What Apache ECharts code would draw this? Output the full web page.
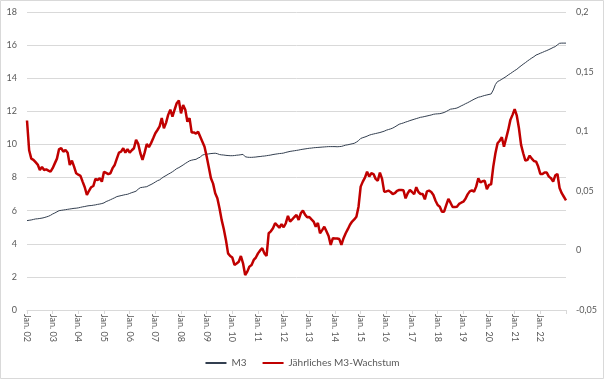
<!DOCTYPE html>
<html><head><meta charset="utf-8">
<script src="https://cdn.jsdelivr.net/npm/echarts@6/dist/echarts.min.js"></script>
<style>html,body{margin:0;padding:0;background:#fff}#c{width:604px;height:379px}</style>
</head><body><div id="c"></div>
<script>
// Month names and year suffixes used to build the category (month) axis: Jan. 02 ... Jan. 23
const monthNames = ["Jan.","Feb.","Mär.","Apr.","Mai","Jun.","Jul.","Aug.","Sep.","Okt.","Nov.","Dez."];
const years = ["02","03","04","05","06","07","08","09","10","11","12","13","14","15","16","17","18","19","20","21","22","23"];
const seriesNames = ["M3","Jährliches M3-Wachstum"];

// M3 (left axis), monthly Jan 2002 .. Jan 2023
const m3 = [
5.40,5.42,5.44,5.47,5.50,5.51,5.53,5.55,5.58,5.62,5.66,5.72,
5.80,5.86,5.93,6.00,6.02,6.04,6.06,6.08,6.10,6.12,6.14,6.15,
6.17,6.20,6.23,6.25,6.28,6.30,6.31,6.33,6.35,6.38,6.40,6.43,
6.47,6.55,6.60,6.66,6.72,6.78,6.85,6.88,6.91,6.94,6.97,6.99,
7.04,7.09,7.13,7.18,7.30,7.39,7.41,7.43,7.45,7.52,7.58,7.65,
7.73,7.81,7.86,7.96,8.05,8.12,8.20,8.27,8.35,8.44,8.54,8.60,
8.68,8.76,8.85,8.93,9.01,9.05,9.08,9.10,9.18,9.23,9.36,9.39,
9.41,9.43,9.45,9.46,9.47,9.44,9.39,9.37,9.36,9.34,9.33,9.32,
9.32,9.33,9.35,9.36,9.38,9.40,9.26,9.23,9.22,9.22,9.23,9.24,
9.26,9.27,9.29,9.30,9.32,9.34,9.36,9.39,9.41,9.43,9.45,9.46,
9.48,9.52,9.55,9.58,9.60,9.62,9.64,9.66,9.69,9.71,9.73,9.75,
9.77,9.78,9.80,9.81,9.82,9.83,9.84,9.85,9.86,9.87,9.87,9.87,
9.87,9.86,9.87,9.88,9.92,9.96,9.98,10.01,10.04,10.07,10.14,10.23,
10.36,10.41,10.45,10.50,10.56,10.60,10.63,10.66,10.69,10.72,10.76,10.80,
10.86,10.90,10.94,10.99,11.06,11.14,11.22,11.26,11.30,11.35,11.39,11.44,
11.48,11.52,11.56,11.60,11.64,11.66,11.69,11.72,11.75,11.78,11.82,11.84,
11.85,11.86,11.89,11.93,11.99,12.06,12.13,12.15,12.17,12.20,12.26,12.33,
12.39,12.46,12.52,12.59,12.66,12.73,12.79,12.85,12.88,12.92,12.96,12.99,
13.02,13.05,13.29,13.62,13.80,13.86,13.94,14.02,14.10,14.20,14.28,14.37,
14.46,14.54,14.65,14.75,14.85,14.94,15.04,15.13,15.22,15.30,15.40,15.45,
15.51,15.56,15.62,15.67,15.73,15.79,15.86,15.91,16.02,16.11,16.12,16.12,
16.12
];

// Annual M3 growth (right axis), monthly Jan 2002 .. Jan 2023
const growth = [
0.109,0.084,0.077,0.076,0.074,0.072,0.0675,0.070,0.0675,0.068,0.067,0.066,
0.069,0.073,0.077,0.085,0.0857,0.0828,0.0843,0.082,0.0717,0.0753,0.0703,0.0647,
0.0635,0.0625,0.0577,0.053,0.0465,0.050,0.053,0.054,0.060,0.059,0.0605,0.0577,
0.066,0.065,0.064,0.0647,0.069,0.0717,0.077,0.082,0.0828,0.0857,0.082,0.085,
0.082,0.084,0.0857,0.0927,0.0893,0.0815,0.0759,0.082,0.0893,0.0866,0.090,0.094,
0.0983,0.101,0.104,0.111,0.1025,0.107,0.1137,0.118,0.1122,0.118,0.1235,0.1257,
0.115,0.122,0.118,0.108,0.111,0.0988,0.099,0.098,0.0996,0.0954,0.0912,0.087,
0.0787,0.0698,0.0605,0.056,0.048,0.0437,0.0354,0.0256,0.018,0.0088,-0.0025,-0.0047,
-0.006,-0.0122,-0.011,-0.0095,-0.0047,-0.0108,-0.0207,-0.0178,-0.0136,-0.0122,-0.008,-0.006,
-0.0025,0.000,0.0018,-0.0025,-0.0047,0.0144,0.016,0.0186,0.0228,0.021,0.019,0.022,
0.0194,0.0228,0.0289,0.0242,0.026,0.028,0.0297,0.0256,0.0311,0.0334,0.030,0.0278,
0.028,0.026,0.0242,0.0199,0.023,0.0144,0.017,0.0199,0.016,0.0121,0.0046,0.0102,
0.010,0.010,0.0095,0.0046,0.0102,0.0144,0.0178,0.0215,0.0242,0.026,0.0283,0.0367,
0.0535,0.0577,0.061,0.066,0.0619,0.0647,0.064,0.060,0.0585,0.0653,0.060,0.0493,
0.0495,0.0501,0.049,0.0473,0.048,0.050,0.0507,0.0507,0.0505,0.0437,0.048,0.0507,
0.049,0.0471,0.053,0.049,0.0473,0.0473,0.0428,0.0495,0.0501,0.049,0.0465,0.0417,
0.0381,0.0367,0.0325,0.0325,0.038,0.0433,0.040,0.0364,0.0364,0.0367,0.039,0.040,
0.0409,0.0433,0.047,0.0495,0.0503,0.0493,0.0535,0.0605,0.057,0.058,0.0584,0.0514,
0.055,0.0555,0.0703,0.0815,0.0899,0.092,0.0949,0.087,0.094,0.1011,0.1095,0.1137,
0.1185,0.113,0.1025,0.0885,0.0815,0.0753,0.076,0.0795,0.077,0.075,0.0745,0.0703,
0.0641,0.064,0.0653,0.0653,0.0619,0.0605,0.0577,0.063,0.0641,0.0523,0.048,0.045,
0.042
];

const categories = [];
years.forEach(y => monthNames.forEach(mn => categories.push(mn + " " + y)));
categories.length = m3.length;

const FONT = "Lato";
const chart = echarts.init(document.getElementById('c'), null, {renderer:'canvas'});
chart.setOption({
  animation:false,
  backgroundColor:'#ffffff',
  textStyle:{fontFamily:FONT},
  graphic:[{type:'rect',shape:{x:0.5,y:0.5,width:603,height:378},style:{fill:'none',stroke:'#d9d9d9',lineWidth:1},silent:true}],
  grid:{left:27,right:38,top:12,bottom:69},
  legend:{
    top:353,left:'center',itemWidth:21,itemHeight:10,itemGap:15,
    itemStyle:{opacity:0},
    textStyle:{color:'#595959',fontSize:10,fontFamily:FONT},
    data:seriesNames
  },
  xAxis:{
    type:'category',boundaryGap:false,data:categories,
    axisLine:{lineStyle:{color:'#d9d9d9'}},
    axisTick:{interval:11,length:4,lineStyle:{color:'#d9d9d9'}},
    axisLabel:{
      interval:(i)=> i%12===0 && i<categories.length-1,
      rotate:-90,margin:4,color:'#595959',fontSize:9,fontFamily:FONT
    },
    splitLine:{show:false}
  },
  yAxis:[
    {type:'value',min:0,max:18,interval:2,
     axisLine:{show:false},axisTick:{show:false},
     axisLabel:{color:'#595959',fontSize:9,margin:10,fontFamily:FONT},
     splitLine:{lineStyle:{color:'#d9d9d9',width:1}}},
    {type:'value',min:-0.05,max:0.2,interval:0.05,
     axisLine:{show:false},axisTick:{show:false},
     axisLabel:{color:'#595959',fontSize:9,margin:10,fontFamily:FONT,
       formatter:(v)=>String(parseFloat(v.toFixed(2))).replace('.',',')},
     splitLine:{show:false}}
  ],
  series:[
    {name:seriesNames[0],type:'line',yAxisIndex:0,data:m3,symbol:'none',
     lineStyle:{color:'#333f50',width:1},itemStyle:{color:'#333f50'}},
    {name:seriesNames[1],type:'line',yAxisIndex:1,data:growth,symbol:'none',
     lineStyle:{color:'#c00000',width:2.5},itemStyle:{color:'#c00000'}}
  ]
});
</script></body></html>
